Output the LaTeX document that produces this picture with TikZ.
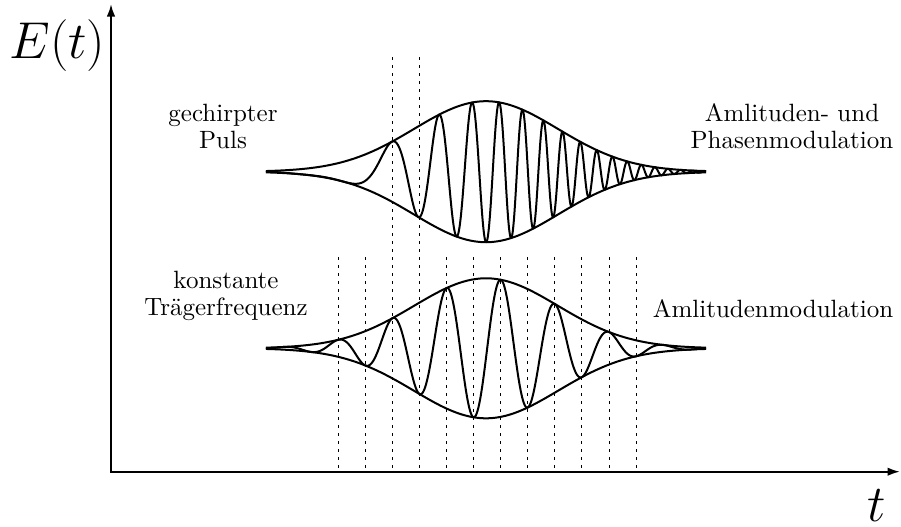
\documentclass[tikz,border=0pt]{standalone}
\usetikzlibrary{arrows.meta}
\tikzset{
  axis/.style={line width=0.8pt, {Latex[length=5pt,width=3.4pt]}-{Latex[length=5pt,width=3.4pt]}},
  envelope/.style={line width=0.8pt, line join=round},
  carrier/.style={line width=0.8pt, line join=round},
  marker/.style={line width=0.4pt, dash pattern=on 1.2pt off 2pt},
  lbl/.style={align=center, font=\fontsize{10}{10.6}\selectfont},
  biglbl/.style={font=\fontsize{20}{24}\selectfont, inner sep=0pt},
  declare function={
    env(\u)=exp(-0.5*\u*\u);
    chirp(\u)=3.108+16.793*\u+3.684*\u*\u;
    plain(\u)=4.575+8.356*\u;
  },
}
\begin{document}
\begin{tikzpicture}[x=0.4pt,y=-0.4pt]
  \useasboundingbox (0,0) rectangle (901,527);

  % Axes
  \coordinate (origin) at (111,471.7);
  \coordinate (ytip) at (111,4);
  \coordinate (xtip) at (900,471.7);
  \draw[axis] (ytip) |- (xtip);
  \node[biglbl, anchor=base] (ylbl) at (57.5,58.3) {$E(t)$};
  \node[biglbl, anchor=base] (xlbl) at (876.5,521.5) {$t$};

  % Markers
  \foreach \k in {0,1,4,5,6,7,8,9,10,11}
    \draw[marker] ({338.3+27.07*\k},257) -- ({338.3+27.07*\k},471.7);
  \foreach \k in {2,3}
    \draw[marker] ({338.3+27.07*\k},57) -- ({338.3+27.07*\k},471.7);

  % Chirped pulse
  \draw[envelope] plot[domain=-3.056:3.056, samples=120] ({486+72*\x}, {171.7-70.5*env(\x)});
  \draw[envelope] plot[domain=-3.056:3.056, samples=120] ({486+72*\x}, {171.7+70.5*env(\x)});
  \draw[carrier] plot[domain=-3.056:3.056, samples=900] ({486+72*\x}, {171.7-70.5*env(\x)*cos(chirp(\x) r)});

  % Constant carrier
  \draw[envelope] plot[domain=-3.056:3.056, samples=120] ({486+72*\x}, {348.3-70*env(\x)});
  \draw[envelope] plot[domain=-3.056:3.056, samples=120] ({486+72*\x}, {348.3+70*env(\x)});
  \draw[carrier] plot[domain=-3.056:3.056, samples=600] ({486+72*\x}, {348.3-70*env(\x)*cos(plain(\x) r)});

  % Labels (base = last line)
  \node[lbl, anchor=base] (chirplbl) at (223,148) {gechirpter\\Puls};
  \node[lbl, anchor=base] (phaselbl) at (792,148.3) {Amlituden- und\\Phasenmodulation};
  \node[lbl, anchor=base] (constlbl) at (226,315) {konstante\\Trägerfrequenz};
  \node[lbl, anchor=base] (amplbl) at (773,317) {Amlitudenmodulation};
\end{tikzpicture}
\end{document}
